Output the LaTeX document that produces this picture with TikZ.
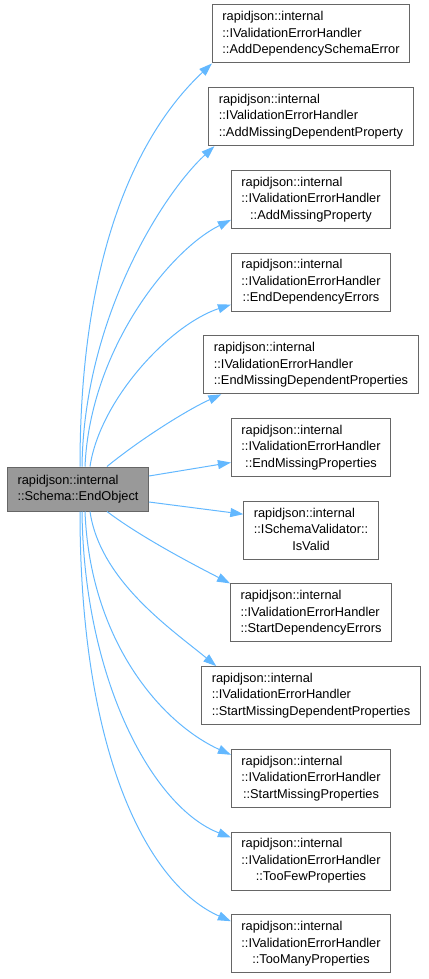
\documentclass[tikz,border=0pt]{standalone}
\usepackage{fontspec}
\setmainfont{Liberation Sans}
\usetikzlibrary{arrows.meta}
\usepackage{xcolor}
\definecolor{edgeblue}{HTML}{63B8FF}
\definecolor{boxgray}{HTML}{666666}
\definecolor{fillgray}{HTML}{999999}
\newcommand{\fnlabel}[3]{\begin{tabular}{@{}l@{}}#1\\#2\\\multicolumn{1}{@{}c@{}}{#3}\end{tabular}}

\begin{document}
\begin{tikzpicture}[x=1pt,y=-1pt,font=\fontsize{12.8}{16.5}\selectfont,
  fn/.style={draw=boxgray,line width=1pt,fill=white,inner xsep=10pt,inner ysep=0pt,minimum height=58pt},
  call/.style={draw=edgeblue,line width=1pt,-{Triangle[length=13pt,width=9pt,fill=edgeblue]}}]
  \useasboundingbox (0,0) rectangle (428,979);
  \node[fn,fill=fillgray,minimum height=44pt] (endobj) at (78,489)
    {\begin{tabular}{@{}l@{}}rapidjson::internal\\::Schema::EndObject\end{tabular}};
  \foreach \i/\n/\c in {1/::IValidationErrorHandler/::AddDependencySchemaError,
      2/::IValidationErrorHandler/::AddMissingDependentProperty,
      3/::IValidationErrorHandler/::AddMissingProperty,
      4/::IValidationErrorHandler/::EndDependencyErrors,
      5/::IValidationErrorHandler/::EndMissingDependentProperties,
      6/::IValidationErrorHandler/::EndMissingProperties,
      7/::ISchemaValidator::/IsValid,
      8/::IValidationErrorHandler/::StartDependencyErrors,
      9/::IValidationErrorHandler/::StartMissingDependentProperties,
      10/::IValidationErrorHandler/::StartMissingProperties,
      11/::IValidationErrorHandler/::TooFewProperties,
      12/::IValidationErrorHandler/::TooManyProperties} {
    \node[fn] (t\i) at (311,{34+82.7*(\i-1)}) {\fnlabel{rapidjson::internal}{\n}{\c}};
  }
  % calls going up
  \draw[call] ([xshift=2pt]endobj.north) .. controls +(0,-237) and +(-61,57) .. (t1.south west);
  \draw[call] ([xshift=4pt]endobj.north) .. controls +(2,-147) and +(-53,49) .. ([xshift=6pt]t2.south west);
  \draw[call] ([xshift=7pt]endobj.north) .. controls +(5,-117) and +(-61,30) .. ([yshift=9pt]t3.south west);
  \draw[call] ([xshift=12pt]endobj.north) .. controls +(10,-67) and +(-61,20) .. ([yshift=7pt]t4.south west);
  \draw[call] ([xshift=29pt]endobj.north) .. controls +(33,-27) and +(-35,16) .. ([xshift=18pt]t5.south west);
  \draw[call] ([yshift=13pt]endobj.east) -- ([yshift=-15pt]t6.west);
  \draw[call] ([yshift=-13pt]endobj.east) -- ([yshift=16pt]t7.west);
  % calls going down
  \draw[call] ([xshift=29pt]endobj.south) .. controls +(33,25) and +(-39,-20) .. (t8.north west);
  \draw[call] ([xshift=12pt]endobj.south) .. controls +(10,69) and +(-45,-37) .. ([xshift=15pt]t9.north west);
  \draw[call] ([xshift=7pt]endobj.south) .. controls +(5,129) and +(-70,-32) .. ([yshift=-6pt]t10.north west);
  \draw[call] ([xshift=4pt]endobj.south) .. controls +(2,169) and +(-78,-30) .. ([yshift=-6pt]t11.north west);
  \draw[call] ([xshift=2pt]endobj.south) .. controls +(0,249) and +(-80,-35) .. ([yshift=-7pt]t12.north west);
\end{tikzpicture}
\end{document}
